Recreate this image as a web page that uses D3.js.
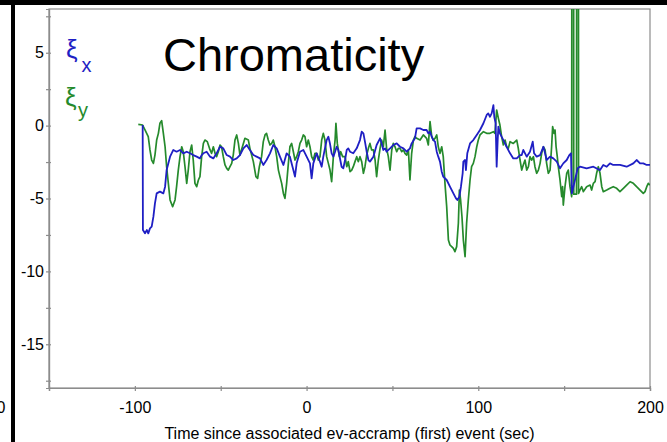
<!DOCTYPE html>
<html>
<head>
<meta charset="utf-8">
<script src="https://cdn.jsdelivr.net/npm/d3@7"></script>
<style>
  html, body { margin: 0; padding: 0; background: #fff; }
  svg { display: block; font-family: "Liberation Sans", Arial, sans-serif; }
</style>
</head>
<body>
<svg id="chart" width="667" height="442"></svg>
<script>
// Chromaticity time series: [time (s), value]
const xiX = [
  [-95.45, 0.04], [-95.3, -7.16], [-94.1, -7.39], [-93.0, -7.16], [-92.2, -7.39], [-91.2, -7.05],
  [-90.2, -6.93], [-89.2, -6.25], [-88.3, -5.33], [-87.3, -4.65], [-85.4, -4.53], [-83.4, -4.65],
  [-82.4, -4.19], [-81.5, -3.05], [-79.5, -2.13], [-77.6, -1.67], [-75.7, -1.79], [-73.7, -1.67],
  [-71.8, -1.90], [-69.8, -1.79], [-67.9, -1.90], [-66.0, -2.02], [-64.0, -2.13], [-62.1, -2.25],
  [-61.1, -2.02], [-60.1, -1.90], [-58.2, -1.79], [-56.2, -2.13], [-54.3, -2.25], [-52.4, -1.90],
  [-50.4, -1.45], [-48.5, -1.56], [-46.5, -2.02], [-44.6, -2.13], [-42.7, -2.36], [-40.7, -2.25],
  [-38.8, -2.02], [-36.8, -1.56], [-34.9, -1.33], [-33.0, -1.67], [-31.0, -2.02], [-29.1, -2.13],
  [-27.1, -2.25], [-25.2, -2.70], [-23.3, -2.36], [-21.3, -1.90], [-19.4, -1.33], [-17.4, -1.56],
  [-15.5, -2.13], [-13.5, -2.70], [-11.6, -1.90], [-9.7, -2.13], [-7.7, -3.05], [-6.75, -3.50],
  [-5.78, -2.59], [-3.84, -1.79], [-1.9, -1.67], [0.04, -2.13], [1.98, -2.59], [2.95, -3.62],
  [3.93, -2.59], [5.87, -1.90], [7.8, -2.47], [8.8, -2.82], [9.75, -2.13], [11.7, -0.99],
  [12.7, -0.76], [13.6, -1.22], [14.6, -1.90], [15.6, -2.13], [16.6, -1.79], [17.5, -1.45],
  [18.5, -1.67], [20.4, -2.82], [21.4, -2.93], [22.4, -2.36], [23.4, -1.67], [24.3, -1.56],
  [25.3, -1.79], [27.2, -1.90], [29.2, -1.56], [31.1, -0.99], [32.1, -0.42], [33.1, -0.53],
  [34.0, -1.10], [35.0, -1.79], [36.0, -2.36], [36.9, -2.47], [38.9, -2.13], [40.8, -1.33],
  [42.8, -0.87], [43.7, -1.22], [44.7, -1.67], [45.7, -1.56], [46.6, -1.79], [48.6, -1.56],
  [50.5, -1.33], [52.5, -1.22], [54.4, -1.45], [56.4, -1.56], [58.3, -1.79], [60.2, -1.56],
  [61.2, -1.22], [63.1, -0.87], [64.1, -0.19], [66.1, -0.19], [68.0, -0.30], [69.9, -0.30],
  [70.9, -0.53], [71.9, -0.42], [72.9, -0.76], [73.8, -0.99], [74.8, -1.10], [75.8, -1.79],
  [76.7, -2.13], [77.7, -2.47], [78.7, -3.16], [79.6, -3.50], [81.6, -3.73], [83.5, -4.19],
  [85.5, -4.65], [87.0, -4.99], [87.8, -5.10], [89.0, -4.88], [89.9, -4.19], [90.9, -3.27],
  [91.3, -2.47], [92.3, -2.36], [92.8, -3.05], [93.6, -1.90], [95.2, -1.22], [97.1, -0.99],
  [99.1, -0.64], [101.0, -0.30], [103.0, 0.16], [104.9, 0.73], [105.8, 0.84], [106.8, 0.61],
  [107.8, 0.84], [108.8, 1.41], [109.3, 0.61], [110.1, 0.16], [110.7, -2.82], [111.3, -0.99],
  [111.7, -0.07], [112.6, -0.53], [114.6, -0.99], [116.5, -1.45], [118.5, -1.90], [120.4, -2.25],
  [122.4, -2.25], [124.3, -2.02], [125.3, -2.02], [126.2, -1.67], [128.2, -2.13], [130.1, -1.79],
  [131.7, -1.10], [132.5, -1.90], [134.0, -2.13], [136.0, -2.02], [137.9, -1.45], [138.9, -1.90],
  [139.8, -2.36], [141.8, -2.13], [143.7, -2.25], [145.7, -2.47], [147.6, -2.93], [149.5, -2.59],
  [151.5, -2.36], [153.0, -2.02], [154.0, -1.90], [154.5, -4.65], [157.9, -2.93], [159.2, -2.82],
  [163.1, -2.93], [167.0, -2.82], [170.9, -3.05], [172.8, -2.70], [174.8, -2.82], [176.7, -2.59],
  [178.6, -2.70], [182.5, -2.70], [186.4, -2.82], [190.3, -2.59], [192.2, -2.36], [194.2, -2.59],
  [196.1, -2.59], [198.1, -2.70], [200.0, -2.70]
];

const xiY = [
  [-98.0, 0.09], [-95.5, 0.04], [-94.1, -0.30], [-92.2, -0.76], [-91.2, -1.67], [-90.2, -2.36],
  [-89.2, -2.59], [-88.3, -2.02], [-87.3, -0.99], [-86.3, -0.53], [-85.4, 0.16], [-84.4, 0.34],
  [-83.4, -0.53], [-82.4, -1.45], [-81.5, -2.82], [-80.5, -3.96], [-79.5, -5.10], [-78.0, -5.56],
  [-76.6, -5.10], [-75.7, -4.19], [-74.7, -3.05], [-73.7, -2.13], [-72.7, -1.45], [-71.8, -1.79],
  [-70.8, -2.82], [-69.8, -3.96], [-68.9, -3.05], [-67.9, -1.79], [-66.9, -1.33], [-66.0, -2.36],
  [-65.0, -3.96], [-64.0, -4.19], [-63.0, -3.73], [-62.1, -3.50], [-61.1, -2.13], [-60.1, -1.22],
  [-59.2, -0.99], [-57.8, -1.10], [-56.2, -1.67], [-55.3, -1.90], [-54.3, -1.45], [-53.3, -1.90],
  [-52.4, -2.13], [-51.4, -1.79], [-50.4, -1.33], [-49.5, -1.45], [-48.5, -2.13], [-47.5, -2.70],
  [-46.5, -2.93], [-45.6, -3.05], [-44.6, -2.82], [-43.6, -2.59], [-42.7, -2.02], [-41.7, -0.99],
  [-40.7, -0.64], [-39.7, -1.22], [-38.8, -2.02], [-36.8, -1.22], [-35.9, -0.87], [-33.9, -0.99],
  [-33.0, -1.56], [-31.0, -2.47], [-29.5, -3.50], [-28.5, -3.62], [-27.5, -2.82], [-26.2, -2.13],
  [-25.2, -1.10], [-24.2, -0.64], [-23.3, -0.53], [-22.3, -0.99], [-21.3, -1.33], [-20.3, -1.22],
  [-19.4, -0.99], [-18.4, -1.45], [-17.4, -2.13], [-16.4, -3.05], [-15.5, -3.50], [-14.5, -3.96],
  [-13.5, -4.65], [-12.6, -4.99], [-11.6, -3.96], [-10.6, -2.59], [-9.7, -1.45], [-8.7, -1.22],
  [-7.7, -1.79], [-6.75, -2.36], [-5.78, -2.13], [-4.8, -1.79], [-3.84, -1.22], [-2.87, -0.99],
  [-1.9, -0.64], [-0.93, -0.76], [0.04, -1.45], [1.0, -0.99], [1.98, -1.45], [2.95, -2.13],
  [3.93, -2.36], [4.9, -1.90], [5.87, -1.90], [6.84, -2.36], [7.8, -2.13], [8.8, -0.99],
  [9.75, -0.53], [10.7, -0.99], [11.7, -2.13], [12.7, -2.59], [13.65, -3.05], [14.6, -3.85],
  [15.6, -2.13], [16.6, -0.99], [17.1, 0.16], [17.9, -1.22], [19.1, -2.13], [19.9, -1.79],
  [21.0, -2.13], [22.4, -2.13], [23.4, -2.82], [24.3, -2.47], [25.3, -3.16], [26.3, -3.05],
  [27.2, -2.82], [28.2, -2.47], [29.2, -2.13], [30.1, -2.47], [31.1, -2.13], [32.1, -2.47],
  [33.1, -3.27], [34.0, -2.82], [35.0, -2.02], [36.0, -1.56], [36.9, -1.22], [37.9, -1.67],
  [38.9, -1.67], [39.9, -2.36], [40.8, -3.50], [41.8, -2.36], [42.8, -1.56], [43.7, -0.99],
  [44.7, -1.45], [45.7, -0.30], [46.6, -1.56], [47.6, -2.13], [48.6, -3.05], [49.6, -1.67],
  [50.5, -1.22], [51.5, -1.45], [52.5, -1.79], [53.4, -1.56], [54.4, -1.56], [55.4, -1.79],
  [56.4, -1.67], [57.3, -1.90], [58.3, -2.02], [59.3, -1.67], [60.2, -3.73], [61.2, -1.90],
  [62.2, -0.99], [63.1, -0.76], [64.1, -0.87], [66.1, -0.99], [68.0, -0.64], [69.9, -0.87],
  [70.9, -1.33], [71.9, 0.27], [72.9, -0.76], [73.8, -0.99], [74.8, -0.87], [75.8, -0.64],
  [76.7, -1.45], [77.7, -1.90], [78.7, -1.45], [79.6, -2.13], [80.6, -3.96], [81.6, -5.56],
  [82.6, -7.85], [83.5, -8.19], [84.5, -8.30], [85.5, -8.42], [86.4, -8.65], [87.4, -8.30],
  [88.4, -6.70], [89.0, -4.42], [89.7, -5.10], [90.5, -6.25], [91.3, -7.85], [92.3, -8.99],
  [93.2, -6.70], [94.2, -5.10], [95.2, -3.73], [96.1, -2.82], [97.1, -2.59], [98.1, -2.13],
  [99.1, -1.45], [100.0, -0.99], [101.0, -0.64], [103.0, -0.42], [104.9, -0.53], [106.8, -0.53],
  [108.8, -0.42], [109.7, -0.53], [110.7, 1.07], [111.7, 0.50], [112.6, 0.04], [113.6, -0.76],
  [114.6, -1.33], [115.6, -0.99], [116.5, -1.45], [117.5, -1.56], [118.5, -1.10], [120.4, -1.22],
  [122.4, -0.99], [123.3, -1.56], [124.3, -2.36], [125.3, -3.05], [126.2, -2.70], [127.2, -2.36],
  [128.2, -3.05], [129.2, -2.82], [130.1, -2.13], [131.1, -2.36], [132.1, -2.13], [133.0, -2.82],
  [134.0, -3.27], [135.0, -3.05], [136.0, -2.59], [136.9, -1.90], [137.9, -1.45], [138.9, -1.67],
  [139.8, -2.59], [140.8, -3.27], [141.8, -3.05], [142.7, -1.45], [143.3, -0.07], [144.1, -0.53],
  [144.7, -0.30], [145.3, -1.45], [146.0, -2.13], [146.6, -2.82], [147.6, -3.73], [148.6, -4.88],
  [149.1, -4.19], [149.5, -5.45], [150.5, -4.19], [151.5, -3.27], [152.4, -3.05], [153.4, -4.19],
  [154.4, -4.88], [154.6, 40], [155.4, 40], [155.6, -4.70], [157.2, -4.70], [157.4, 40],
  [158.2, 40], [158.4, -4.65], [159.2, -4.42], [160.2, -4.19], [161.2, -4.53], [163.1, -4.19],
  [165.1, -4.08], [166.0, -4.42], [167.0, -3.96], [168.0, -3.85], [168.9, -3.27], [169.9, -2.82],
  [170.9, -3.27], [171.9, -4.19], [172.8, -4.53], [174.8, -4.42], [176.7, -4.30], [178.6, -4.19],
  [180.6, -4.30], [182.5, -4.53], [184.5, -4.30], [186.4, -4.08], [188.4, -3.85], [190.3, -3.96],
  [192.2, -4.19], [194.2, -4.42], [196.1, -4.65], [197.1, -4.53], [198.1, -4.19], [199.0, -3.96],
  [200.0, -4.08]
];

// Axis ticks
const xMajorTicks = [-100, 0, 100, 200];
const xMinorTicks = [-150, -50, 50, 150];
const yMajorTicks = [-15, -10, -5, 0, 5];
const yMinorTicks = [-17.5, -12.5, -7.5, -2.5, 2.5, 7.5];

const titleText = "Chromaticity";
const xLabel = "Time since associated ev-accramp (first) event (sec)";

const blue = "#1f1fc4";
const green = "#258a2c";
const frameColor = "#8c8c8c";
const plainNumber = d => String(d);

const svg = d3.select("#chart");
const plot = { left: 49, right: 650, top: 9, bottom: 388 };

const x = d3.scaleLinear().domain([-150, 200]).range([plot.left, plot.right]);
const y = d3.scaleLinear().domain([-18, 8]).range([plot.bottom, plot.top]);

// Panel edge strips
svg.append("rect").attr("x", 0).attr("y", 0).attr("width", 667).attr("height", 5).attr("fill", "#000");
svg.append("rect").attr("x", 11).attr("y", 0).attr("width", 4).attr("height", 442).attr("fill", "#000");
// Cut-off tick label from the neighbouring panel
svg.append("text").attr("x", 5.5).attr("y", 413).attr("text-anchor", "end")
  .attr("font-size", 16).attr("fill", "#000").text("200");

// Frame
svg.append("rect")
  .attr("x", plot.left).attr("y", plot.top)
  .attr("width", plot.right - plot.left).attr("height", plot.bottom - plot.top)
  .attr("fill", "none").attr("stroke", frameColor).attr("stroke-width", 1.2);

function styleAxis(g) {
  g.select(".domain").attr("stroke", frameColor).attr("stroke-width", 1.2);
  g.selectAll(".tick line").attr("stroke", frameColor).attr("stroke-width", 1.2);
  g.selectAll(".tick text").attr("fill", "#000").attr("font-size", 16)
    .attr("font-family", "Liberation Sans, Arial, sans-serif");
}

// Bottom axis
const xAxisG = svg.append("g").attr("transform", `translate(0,${plot.bottom})`)
  .call(d3.axisBottom(x).tickValues(xMajorTicks).tickSize(3).tickPadding(10.5).tickFormat(plainNumber))
  .call(styleAxis);
const xMinorG = svg.append("g").attr("transform", `translate(0,${plot.bottom})`)
  .call(d3.axisBottom(x).tickValues(xMinorTicks).tickSize(3).tickFormat(""))
  .call(styleAxis);
xAxisG.selectAll(".tick line").attr("y1", -2);
xMinorG.selectAll(".tick line").attr("y1", -2);

// Left axis
const yAxisG = svg.append("g").attr("transform", `translate(${plot.left},0)`)
  .call(d3.axisLeft(y).tickValues(yMajorTicks).tickSize(3).tickPadding(2).tickFormat(plainNumber))
  .call(styleAxis);
const yMinorG = svg.append("g").attr("transform", `translate(${plot.left},0)`)
  .call(d3.axisLeft(y).tickValues(yMinorTicks).tickSize(3).tickFormat(""))
  .call(styleAxis);
yAxisG.selectAll(".tick line").attr("x1", 2);
yMinorG.selectAll(".tick line").attr("x1", 2);

// Clip region for the data lines
svg.append("defs").append("clipPath").attr("id", "plotClip")
  .append("rect")
  .attr("x", plot.left).attr("y", plot.top)
  .attr("width", plot.right - plot.left).attr("height", plot.bottom - plot.top);

const line = d3.line().x(d => x(d[0])).y(d => y(d[1]));

const lines = svg.append("g").attr("clip-path", "url(#plotClip)");
lines.append("path").datum(xiY)
  .attr("d", line).attr("fill", "none").attr("stroke", green)
  .attr("stroke-width", 1.7).attr("stroke-linejoin", "round");
lines.append("path").datum(xiX)
  .attr("d", line).attr("fill", "none").attr("stroke", blue)
  .attr("stroke-width", 1.8).attr("stroke-linejoin", "round");

// Title
svg.append("text").attr("x", 163).attr("y", 71)
  .attr("font-size", 47).attr("fill", "#000").text(titleText);

// Legend
const legX = svg.append("text").attr("fill", blue);
legX.append("tspan").attr("x", 66).attr("y", 58).attr("font-size", 26).text("ξ");
legX.append("tspan").attr("x", 81.5).attr("y", 72).attr("font-size", 20).text("x");
const legY = svg.append("text").attr("fill", green);
legY.append("tspan").attr("x", 65).attr("y", 106).attr("font-size", 26).text("ξ");
legY.append("tspan").attr("x", 78).attr("y", 117).attr("font-size", 20).text("y");

// X axis title
svg.append("text")
  .attr("x", (plot.left + plot.right) / 2).attr("y", 438.5)
  .attr("text-anchor", "middle").attr("font-size", 16).attr("fill", "#000")
  .text(xLabel);
</script>
</body>
</html>
